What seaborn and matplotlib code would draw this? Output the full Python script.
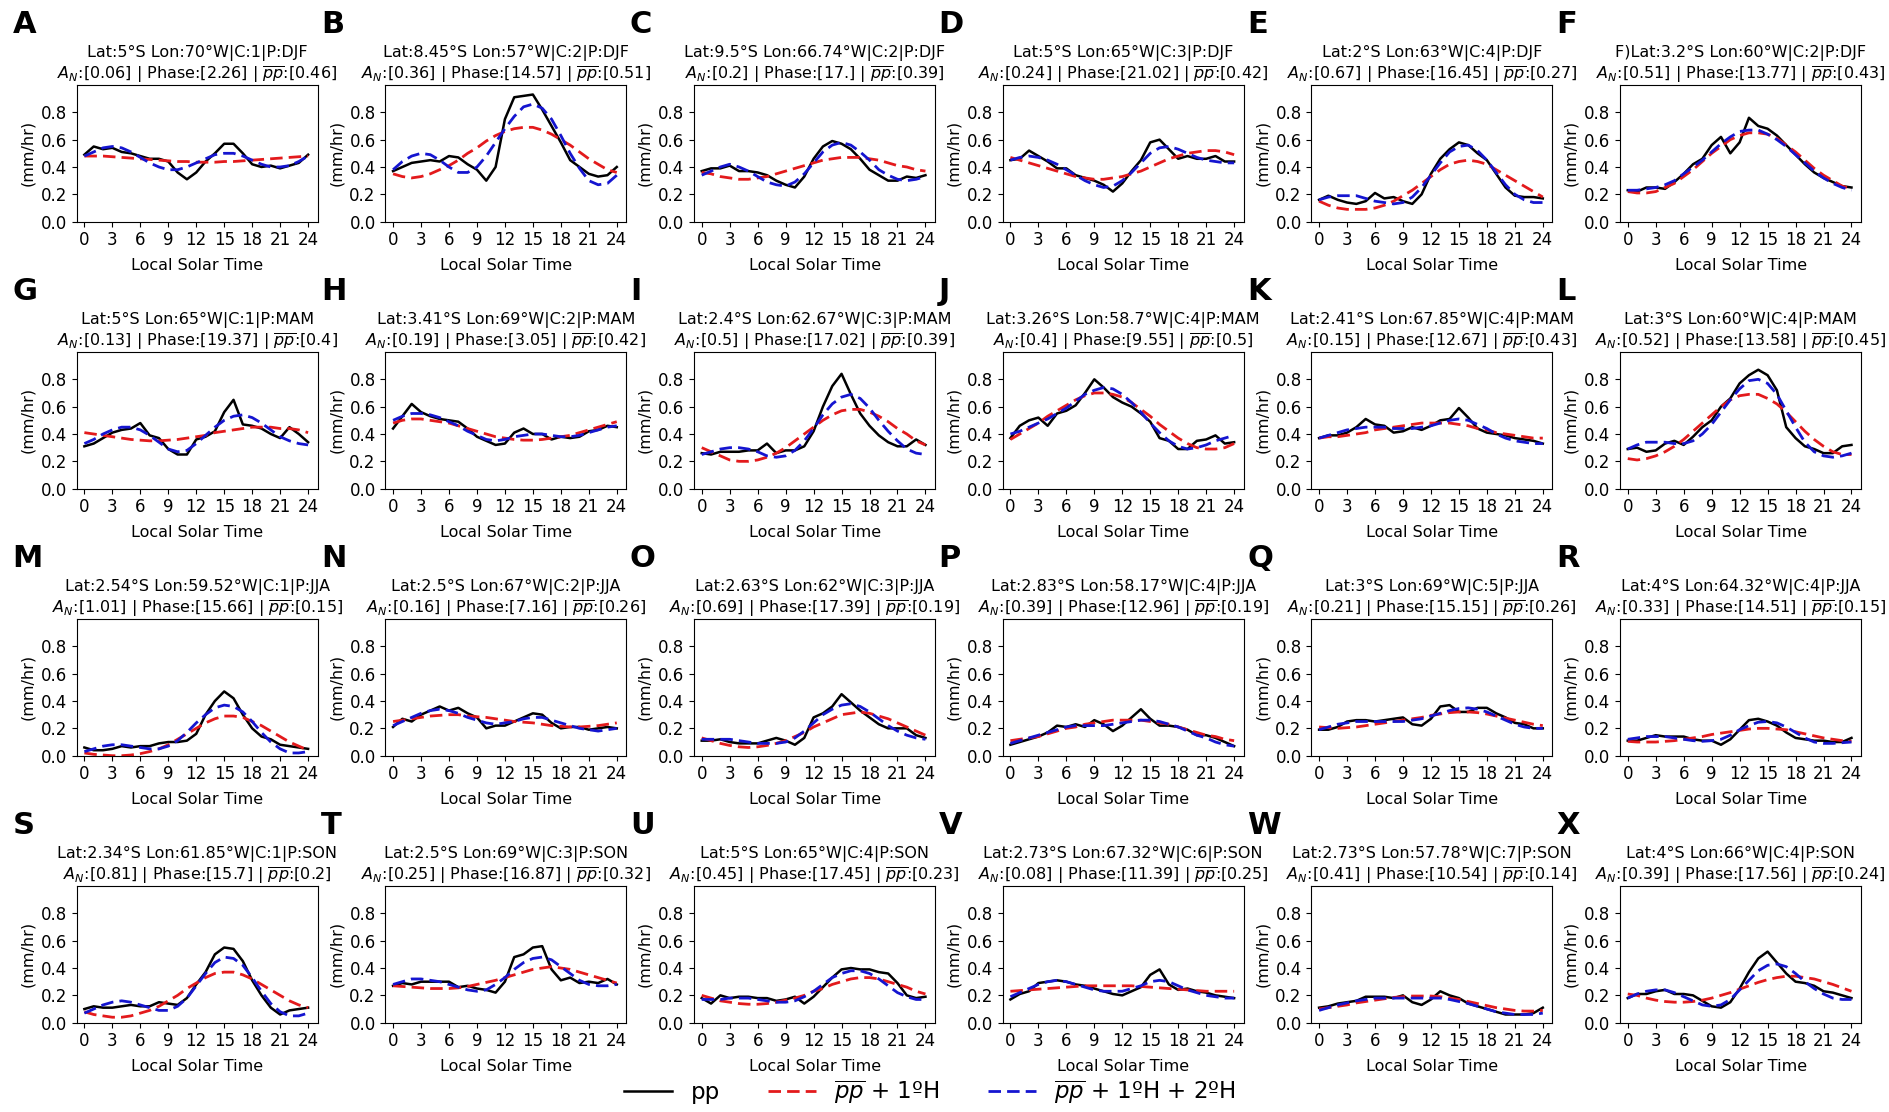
import numpy as np
import pandas as pd
import seaborn as sb
import matplotlib.pyplot as plt

HOURS = list(range(25))

PANELS = list('ABCDEFGHIJKLMNOPQRSTUVWX')
LAT = ['5', '8.45', '9.5', '5', '2', '3.2',
       '5', '3.41', '2.4', '3.26', '2.41', '3',
       '2.54', '2.5', '2.63', '2.83', '3', '4',
       '2.34', '2.5', '5', '2.73', '2.73', '4']
LON = ['70', '57', '66.74', '65', '63', '60',
       '65', '69', '62.67', '58.7', '67.85', '60',
       '59.52', '67', '62', '58.17', '69', '64.32',
       '61.85', '69', '65', '67.32', '57.78', '66']
CLUSTER = [1, 2, 2, 3, 4, 2, 1, 2, 3, 4, 4, 4, 1, 2, 3, 4, 5, 4, 1, 3, 4, 6, 7, 4]
PERIOD = ['DJF'] * 6 + ['MAM'] * 6 + ['JJA'] * 6 + ['SON'] * 6
AMP_N = ['0.06', '0.36', '0.2', '0.24', '0.67', '0.51',
         '0.13', '0.19', '0.5', '0.4', '0.15', '0.52',
         '1.01', '0.16', '0.69', '0.39', '0.21', '0.33',
         '0.81', '0.25', '0.45', '0.08', '0.41', '0.39']
PHASE = ['2.26', '14.57', '17.', '21.02', '16.45', '13.77',
         '19.37', '3.05', '17.02', '9.55', '12.67', '13.58',
         '15.66', '7.16', '17.39', '12.96', '15.15', '14.51',
         '15.7', '16.87', '17.45', '11.39', '10.54', '17.56']
PP_MEAN = ['0.46', '0.51', '0.39', '0.42', '0.27', '0.43',
           '0.4', '0.42', '0.39', '0.5', '0.43', '0.45',
           '0.15', '0.26', '0.19', '0.19', '0.26', '0.15',
           '0.2', '0.32', '0.23', '0.25', '0.14', '0.24']
PREFIX = {'F': 'F)'}

# pp = observed, h1 = mean + 1st harmonic, h2 = mean + 1st + 2nd harmonic
pp_A = [0.49,0.55,0.53,0.54,0.51,0.50,0.48,0.46,0.46,0.44,0.36,0.31,0.36,0.44,0.50,0.57,0.57,0.50,0.42,0.40,0.41,0.39,0.41,0.43,0.49]
h1_A = [0.48,0.48,0.48,0.475,0.47,0.465,0.46,0.455,0.45,0.445,0.44,0.44,0.435,0.435,0.435,0.44,0.44,0.445,0.45,0.455,0.46,0.465,0.47,0.475,0.48]
h2_A = [0.48,0.51,0.54,0.55,0.54,0.51,0.47,0.43,0.40,0.38,0.38,0.40,0.43,0.46,0.49,0.50,0.50,0.48,0.45,0.42,0.40,0.40,0.41,0.44,0.48]

pp_B = [0.37,0.40,0.43,0.44,0.45,0.44,0.48,0.47,0.42,0.38,0.30,0.40,0.75,0.91,0.92,0.93,0.82,0.70,0.58,0.45,0.40,0.35,0.33,0.34,0.40]
h1_B = [0.35,0.33,0.32,0.33,0.35,0.38,0.41,0.45,0.50,0.54,0.59,0.63,0.66,0.68,0.69,0.69,0.67,0.64,0.60,0.56,0.51,0.46,0.42,0.38,0.36]
h2_B = [0.38,0.44,0.48,0.50,0.49,0.45,0.40,0.36,0.36,0.40,0.48,0.58,0.68,0.77,0.84,0.86,0.83,0.75,0.63,0.50,0.39,0.30,0.27,0.28,0.34]

pp_C = [0.37,0.39,0.39,0.41,0.37,0.37,0.36,0.34,0.30,0.27,0.25,0.33,0.46,0.55,0.59,0.57,0.53,0.46,0.38,0.34,0.30,0.30,0.33,0.32,0.34]
h1_C = [0.36,0.35,0.33,0.32,0.31,0.31,0.32,0.33,0.35,0.37,0.39,0.41,0.43,0.45,0.46,0.47,0.47,0.47,0.46,0.45,0.43,0.41,0.40,0.38,0.37]
h2_C = [0.34,0.37,0.40,0.42,0.40,0.37,0.33,0.29,0.27,0.26,0.29,0.35,0.43,0.51,0.56,0.58,0.56,0.51,0.45,0.38,0.34,0.31,0.30,0.31,0.33]

pp_D = [0.45,0.46,0.52,0.48,0.44,0.39,0.39,0.34,0.32,0.30,0.27,0.22,0.28,0.37,0.45,0.58,0.60,0.53,0.46,0.48,0.46,0.46,0.48,0.44,0.44]
h1_D = [0.47,0.45,0.43,0.41,0.39,0.37,0.35,0.33,0.32,0.31,0.31,0.32,0.33,0.35,0.37,0.40,0.43,0.46,0.48,0.50,0.51,0.52,0.52,0.51,0.49]
h2_D = [0.45,0.47,0.48,0.47,0.45,0.42,0.38,0.34,0.30,0.27,0.25,0.26,0.30,0.36,0.43,0.50,0.54,0.55,0.53,0.50,0.47,0.45,0.44,0.43,0.43]

pp_E = [0.16,0.19,0.16,0.14,0.13,0.15,0.21,0.17,0.18,0.15,0.13,0.20,0.35,0.46,0.53,0.58,0.56,0.50,0.45,0.35,0.25,0.19,0.18,0.18,0.17]
h1_E = [0.15,0.12,0.10,0.09,0.09,0.09,0.10,0.12,0.15,0.19,0.23,0.28,0.33,0.38,0.42,0.44,0.45,0.44,0.42,0.38,0.34,0.30,0.26,0.22,0.18]
h2_E = [0.16,0.18,0.19,0.19,0.19,0.17,0.15,0.14,0.13,0.14,0.18,0.25,0.34,0.43,0.51,0.55,0.56,0.52,0.45,0.36,0.27,0.20,0.16,0.14,0.14]

pp_F = [0.23,0.22,0.25,0.25,0.24,0.29,0.35,0.42,0.46,0.56,0.62,0.50,0.58,0.76,0.70,0.68,0.63,0.56,0.49,0.42,0.36,0.32,0.29,0.26,0.25]
h1_F = [0.22,0.21,0.21,0.22,0.25,0.28,0.33,0.38,0.44,0.50,0.55,0.60,0.63,0.65,0.65,0.64,0.61,0.56,0.51,0.45,0.39,0.34,0.30,0.26,0.24]
h2_F = [0.23,0.23,0.24,0.25,0.27,0.30,0.35,0.40,0.45,0.51,0.57,0.62,0.66,0.67,0.67,0.64,0.60,0.55,0.49,0.43,0.37,0.32,0.28,0.25,0.23]

pp_G = [0.31,0.33,0.37,0.41,0.43,0.44,0.48,0.39,0.37,0.29,0.25,0.25,0.36,0.38,0.42,0.56,0.65,0.47,0.46,0.44,0.40,0.37,0.45,0.40,0.34]
h1_G = [0.41,0.40,0.39,0.38,0.37,0.36,0.355,0.35,0.35,0.355,0.36,0.37,0.38,0.39,0.41,0.42,0.43,0.44,0.45,0.45,0.45,0.44,0.44,0.43,0.41]
h2_G = [0.33,0.36,0.40,0.43,0.45,0.45,0.43,0.39,0.34,0.29,0.27,0.28,0.33,0.39,0.45,0.50,0.53,0.54,0.52,0.48,0.43,0.38,0.35,0.33,0.32]

pp_H = [0.44,0.53,0.62,0.56,0.53,0.51,0.50,0.49,0.44,0.38,0.35,0.32,0.33,0.41,0.44,0.40,0.40,0.36,0.38,0.37,0.38,0.42,0.43,0.46,0.45]
h1_H = [0.48,0.50,0.51,0.51,0.50,0.49,0.48,0.46,0.44,0.42,0.40,0.38,0.37,0.36,0.355,0.355,0.36,0.37,0.38,0.39,0.41,0.43,0.45,0.47,0.49]
h2_H = [0.50,0.53,0.55,0.55,0.54,0.52,0.49,0.46,0.42,0.39,0.36,0.35,0.36,0.38,0.39,0.40,0.40,0.39,0.38,0.38,0.39,0.41,0.43,0.45,0.46]

pp_I = [0.26,0.25,0.27,0.27,0.27,0.28,0.28,0.33,0.26,0.28,0.28,0.31,0.42,0.60,0.75,0.84,0.69,0.55,0.46,0.39,0.34,0.31,0.31,0.36,0.32]
h1_I = [0.30,0.27,0.24,0.21,0.20,0.20,0.21,0.23,0.26,0.30,0.35,0.40,0.45,0.50,0.54,0.57,0.58,0.58,0.56,0.53,0.49,0.44,0.40,0.35,0.32]
h2_I = [0.25,0.27,0.29,0.30,0.30,0.29,0.27,0.24,0.23,0.24,0.28,0.35,0.44,0.54,0.62,0.67,0.69,0.66,0.59,0.50,0.42,0.35,0.29,0.26,0.25]

pp_J = [0.37,0.46,0.50,0.52,0.46,0.55,0.57,0.61,0.70,0.80,0.74,0.67,0.63,0.60,0.55,0.49,0.37,0.35,0.29,0.29,0.35,0.36,0.39,0.33,0.34]
h1_J = [0.36,0.40,0.44,0.48,0.53,0.57,0.61,0.65,0.68,0.70,0.70,0.69,0.67,0.63,0.58,0.53,0.47,0.42,0.37,0.33,0.30,0.29,0.29,0.30,0.33]
h2_J = [0.40,0.42,0.45,0.48,0.51,0.55,0.59,0.64,0.69,0.72,0.74,0.73,0.69,0.63,0.56,0.48,0.41,0.35,0.31,0.29,0.30,0.32,0.35,0.37,0.39]

pp_K = [0.37,0.39,0.39,0.41,0.45,0.51,0.47,0.46,0.41,0.42,0.45,0.43,0.46,0.50,0.51,0.59,0.52,0.44,0.41,0.40,0.39,0.37,0.36,0.35,0.33]
h1_K = [0.37,0.38,0.38,0.39,0.40,0.41,0.43,0.44,0.45,0.46,0.47,0.48,0.48,0.48,0.48,0.47,0.46,0.44,0.43,0.41,0.40,0.39,0.38,0.37,0.37]
h2_K = [0.37,0.39,0.41,0.43,0.44,0.45,0.45,0.45,0.44,0.44,0.44,0.45,0.46,0.48,0.50,0.51,0.50,0.47,0.44,0.40,0.37,0.35,0.34,0.33,0.33]

pp_L = [0.29,0.30,0.27,0.28,0.33,0.35,0.32,0.38,0.45,0.50,0.60,0.66,0.77,0.83,0.87,0.83,0.72,0.45,0.37,0.31,0.29,0.26,0.26,0.31,0.32]
h1_L = [0.22,0.21,0.22,0.24,0.27,0.31,0.36,0.42,0.48,0.54,0.60,0.65,0.68,0.69,0.69,0.66,0.62,0.56,0.49,0.42,0.36,0.31,0.27,0.25,0.25]
h2_L = [0.29,0.32,0.34,0.34,0.34,0.33,0.33,0.35,0.40,0.47,0.56,0.65,0.73,0.79,0.80,0.77,0.69,0.57,0.45,0.34,0.27,0.24,0.23,0.24,0.26]

pp_M = [0.06,0.04,0.04,0.05,0.07,0.06,0.07,0.07,0.09,0.10,0.10,0.11,0.16,0.30,0.40,0.47,0.42,0.30,0.20,0.14,0.12,0.08,0.07,0.06,0.05]
h1_M = [0.02,0.01,0.005,0.0,0.0,0.005,0.015,0.03,0.05,0.08,0.12,0.16,0.20,0.24,0.27,0.29,0.29,0.28,0.25,0.22,0.18,0.14,0.10,0.07,0.04]
h2_M = [0.03,0.05,0.07,0.08,0.08,0.07,0.06,0.05,0.05,0.07,0.11,0.17,0.24,0.30,0.35,0.37,0.36,0.32,0.25,0.17,0.10,0.05,0.02,0.02,0.03]

pp_N = [0.21,0.27,0.25,0.30,0.33,0.36,0.33,0.35,0.31,0.28,0.20,0.22,0.22,0.25,0.28,0.31,0.30,0.24,0.20,0.21,0.21,0.19,0.20,0.21,0.20]
h1_N = [0.25,0.26,0.27,0.28,0.29,0.295,0.30,0.30,0.29,0.285,0.28,0.27,0.26,0.25,0.245,0.24,0.23,0.22,0.215,0.21,0.21,0.215,0.22,0.23,0.24]
h2_N = [0.22,0.25,0.28,0.31,0.33,0.34,0.33,0.31,0.28,0.26,0.24,0.23,0.24,0.25,0.27,0.28,0.28,0.26,0.24,0.22,0.20,0.19,0.18,0.19,0.20]

pp_O = [0.11,0.11,0.12,0.10,0.09,0.09,0.09,0.11,0.13,0.11,0.08,0.13,0.28,0.31,0.36,0.45,0.39,0.33,0.28,0.23,0.20,0.20,0.20,0.15,0.13]
h1_O = [0.13,0.11,0.09,0.075,0.065,0.06,0.065,0.075,0.09,0.11,0.14,0.17,0.21,0.24,0.27,0.30,0.31,0.32,0.31,0.29,0.27,0.24,0.21,0.18,0.15]
h2_O = [0.12,0.12,0.12,0.12,0.11,0.10,0.09,0.09,0.09,0.10,0.13,0.18,0.24,0.30,0.34,0.37,0.38,0.36,0.32,0.27,0.22,0.18,0.15,0.13,0.12]

pp_P = [0.08,0.10,0.12,0.14,0.17,0.22,0.21,0.23,0.21,0.26,0.23,0.18,0.22,0.28,0.34,0.27,0.22,0.22,0.21,0.19,0.15,0.15,0.13,0.10,0.07]
h1_P = [0.11,0.12,0.13,0.14,0.16,0.18,0.20,0.21,0.23,0.24,0.25,0.26,0.26,0.26,0.26,0.25,0.24,0.23,0.21,0.19,0.17,0.15,0.14,0.12,0.11]
h2_P = [0.09,0.11,0.13,0.15,0.17,0.19,0.21,0.22,0.22,0.22,0.22,0.23,0.24,0.25,0.26,0.26,0.25,0.23,0.21,0.18,0.15,0.13,0.10,0.08,0.07]

pp_Q = [0.19,0.19,0.21,0.25,0.26,0.26,0.25,0.26,0.27,0.28,0.23,0.22,0.27,0.36,0.37,0.32,0.32,0.35,0.35,0.31,0.28,0.24,0.23,0.20,0.20]
h1_Q = [0.21,0.205,0.20,0.205,0.21,0.22,0.23,0.24,0.25,0.26,0.27,0.28,0.295,0.305,0.315,0.32,0.32,0.315,0.305,0.29,0.275,0.26,0.245,0.23,0.22]
h2_Q = [0.19,0.21,0.23,0.24,0.25,0.25,0.25,0.25,0.25,0.25,0.26,0.27,0.29,0.31,0.33,0.345,0.35,0.34,0.32,0.29,0.26,0.23,0.21,0.20,0.20]

pp_R = [0.11,0.11,0.13,0.15,0.14,0.14,0.14,0.12,0.11,0.11,0.08,0.12,0.19,0.26,0.27,0.25,0.22,0.17,0.13,0.12,0.11,0.11,0.10,0.10,0.13]
h1_R = [0.105,0.10,0.10,0.10,0.105,0.11,0.12,0.13,0.14,0.155,0.165,0.175,0.185,0.195,0.20,0.20,0.195,0.19,0.175,0.16,0.145,0.13,0.12,0.11,0.105]
h2_R = [0.12,0.13,0.14,0.14,0.14,0.13,0.12,0.11,0.105,0.11,0.12,0.15,0.19,0.22,0.245,0.25,0.24,0.21,0.17,0.13,0.10,0.09,0.09,0.095,0.10]

pp_S = [0.10,0.12,0.11,0.11,0.12,0.13,0.12,0.12,0.15,0.14,0.13,0.18,0.28,0.37,0.50,0.55,0.54,0.45,0.31,0.20,0.11,0.06,0.09,0.10,0.11]
h1_S = [0.08,0.06,0.05,0.04,0.04,0.05,0.07,0.09,0.12,0.16,0.20,0.25,0.29,0.33,0.36,0.37,0.37,0.35,0.32,0.28,0.24,0.20,0.16,0.13,0.11]
h2_S = [0.07,0.10,0.13,0.15,0.16,0.15,0.13,0.11,0.09,0.09,0.12,0.18,0.27,0.36,0.44,0.48,0.47,0.42,0.33,0.23,0.14,0.08,0.05,0.05,0.07]

pp_T = [0.27,0.29,0.28,0.30,0.30,0.30,0.30,0.26,0.27,0.25,0.24,0.22,0.30,0.48,0.50,0.55,0.56,0.39,0.31,0.33,0.29,0.30,0.29,0.32,0.28]
h1_T = [0.27,0.265,0.26,0.255,0.25,0.25,0.25,0.255,0.265,0.28,0.295,0.31,0.33,0.35,0.37,0.39,0.40,0.41,0.40,0.39,0.37,0.35,0.33,0.31,0.29]
h2_T = [0.28,0.30,0.32,0.32,0.31,0.30,0.28,0.26,0.24,0.23,0.24,0.28,0.33,0.39,0.44,0.47,0.48,0.46,0.41,0.36,0.31,0.28,0.27,0.27,0.28]

pp_U = [0.18,0.14,0.20,0.18,0.19,0.19,0.18,0.18,0.16,0.17,0.19,0.14,0.19,0.26,0.33,0.39,0.40,0.39,0.39,0.37,0.36,0.29,0.20,0.18,0.19]
h1_U = [0.20,0.18,0.16,0.15,0.14,0.135,0.135,0.14,0.15,0.165,0.18,0.20,0.23,0.25,0.28,0.30,0.32,0.33,0.33,0.32,0.30,0.28,0.26,0.23,0.21]
h2_U = [0.17,0.17,0.17,0.18,0.18,0.18,0.17,0.16,0.15,0.15,0.16,0.19,0.23,0.28,0.33,0.36,0.38,0.38,0.36,0.32,0.27,0.22,0.19,0.17,0.17]

pp_V = [0.17,0.21,0.23,0.29,0.30,0.31,0.30,0.28,0.27,0.25,0.23,0.21,0.20,0.23,0.26,0.35,0.39,0.28,0.24,0.25,0.23,0.22,0.20,0.19,0.18]
h1_V = [0.23,0.235,0.24,0.245,0.25,0.255,0.26,0.265,0.27,0.27,0.27,0.27,0.27,0.27,0.265,0.26,0.255,0.25,0.245,0.24,0.235,0.23,0.23,0.23,0.23]
h2_V = [0.19,0.22,0.25,0.28,0.30,0.31,0.30,0.28,0.26,0.24,0.23,0.23,0.23,0.25,0.27,0.30,0.31,0.30,0.27,0.24,0.22,0.20,0.19,0.18,0.18]

pp_W = [0.11,0.12,0.14,0.15,0.16,0.19,0.19,0.19,0.18,0.20,0.15,0.13,0.17,0.23,0.20,0.18,0.14,0.12,0.10,0.08,0.06,0.06,0.06,0.07,0.11]
h1_W = [0.10,0.11,0.12,0.13,0.145,0.155,0.165,0.175,0.185,0.19,0.195,0.195,0.195,0.19,0.18,0.17,0.155,0.14,0.125,0.11,0.10,0.09,0.085,0.085,0.09]
h2_W = [0.09,0.11,0.13,0.145,0.16,0.17,0.18,0.18,0.18,0.18,0.18,0.18,0.18,0.18,0.17,0.155,0.14,0.12,0.10,0.08,0.07,0.06,0.06,0.06,0.07]

pp_X = [0.18,0.21,0.21,0.23,0.24,0.21,0.21,0.20,0.16,0.12,0.11,0.15,0.25,0.37,0.47,0.52,0.44,0.36,0.30,0.29,0.27,0.23,0.22,0.20,0.18]
h1_X = [0.21,0.20,0.18,0.165,0.155,0.15,0.15,0.155,0.165,0.18,0.20,0.22,0.245,0.27,0.295,0.315,0.33,0.34,0.34,0.33,0.32,0.30,0.28,0.255,0.23]
h2_X = [0.18,0.21,0.23,0.24,0.24,0.22,0.19,0.16,0.13,0.12,0.13,0.17,0.24,0.31,0.38,0.42,0.43,0.41,0.36,0.30,0.25,0.21,0.18,0.17,0.17]

PP = [pp_A, pp_B, pp_C, pp_D, pp_E, pp_F, pp_G, pp_H, pp_I, pp_J, pp_K, pp_L,
      pp_M, pp_N, pp_O, pp_P, pp_Q, pp_R, pp_S, pp_T, pp_U, pp_V, pp_W, pp_X]
H1 = [h1_A, h1_B, h1_C, h1_D, h1_E, h1_F, h1_G, h1_H, h1_I, h1_J, h1_K, h1_L,
      h1_M, h1_N, h1_O, h1_P, h1_Q, h1_R, h1_S, h1_T, h1_U, h1_V, h1_W, h1_X]
H2 = [h2_A, h2_B, h2_C, h2_D, h2_E, h2_F, h2_G, h2_H, h2_I, h2_J, h2_K, h2_L,
      h2_M, h2_N, h2_O, h2_P, h2_Q, h2_R, h2_S, h2_T, h2_U, h2_V, h2_W, h2_X]

LABELS = ['pp', r'$\overline{pp}$ + 1ºH', r'$\overline{pp}$ + 1ºH + 2ºH']

fig, axes = plt.subplots(4, 6, figsize=(18.9, 11.12), dpi=100)
fig.subplots_adjust(left=0.0406, right=0.9847, top=0.9236, bottom=0.0803, wspace=0.281, hspace=0.953)

for i, ax in enumerate(axes.flat):
    df = pd.DataFrame({'hour': HOURS, 'pp': PP[i], 'h1': H1[i], 'h2': H2[i]})
    sb.lineplot(data=df, x='hour', y='pp', color='black', lw=1.8, ax=ax, label=LABELS[0])
    sb.lineplot(data=df, x='hour', y='h1', color='#e31a1c', lw=2, dashes=False,
                linestyle=(0, (4.5, 2.2)), ax=ax, label=LABELS[1])
    sb.lineplot(data=df, x='hour', y='h2', color='#1515d0', lw=2, dashes=False,
                linestyle=(0, (4.5, 2.2)), ax=ax, label=LABELS[2])
    if i == 0:
        handles, labels = ax.get_legend_handles_labels()
    ax.get_legend().remove()

    ax.set_xlim(-0.82, 25.03)
    ax.set_ylim(0, 1.0)
    ax.set_xticks(range(0, 25, 3))
    ax.set_yticks([0.0, 0.2, 0.4, 0.6, 0.8])
    ax.tick_params(labelsize=12)
    ax.set_xlabel('Local Solar Time', fontsize=11.5, labelpad=6)
    ax.set_ylabel('(mm/hr)', fontsize=11.5)

    p = PANELS[i]
    line1 = f'{PREFIX.get(p, "")}Lat:{LAT[i]}°S Lon:{LON[i]}°W|C:{CLUSTER[i]}|P:{PERIOD[i]}'
    line2 = rf'$A_N$:[{AMP_N[i]}] | Phase:[{PHASE[i]}] | $\overline{{pp}}$:[{PP_MEAN[i]}]'
    ax.set_title(line1 + '\n' + line2, fontsize=11.5, pad=3)
    ax.text(-0.266, 1.439, p, transform=ax.transAxes, fontsize=22,
            fontweight='bold', ha='left', va='center')

fig.legend(handles, labels, loc='center', bbox_to_anchor=(0.492, 1 - 1092 / 1112), ncol=3,
           frameon=False, fontsize=16.5, handlelength=2.1, columnspacing=2.1)

plt.savefig('out.png', dpi=100)
